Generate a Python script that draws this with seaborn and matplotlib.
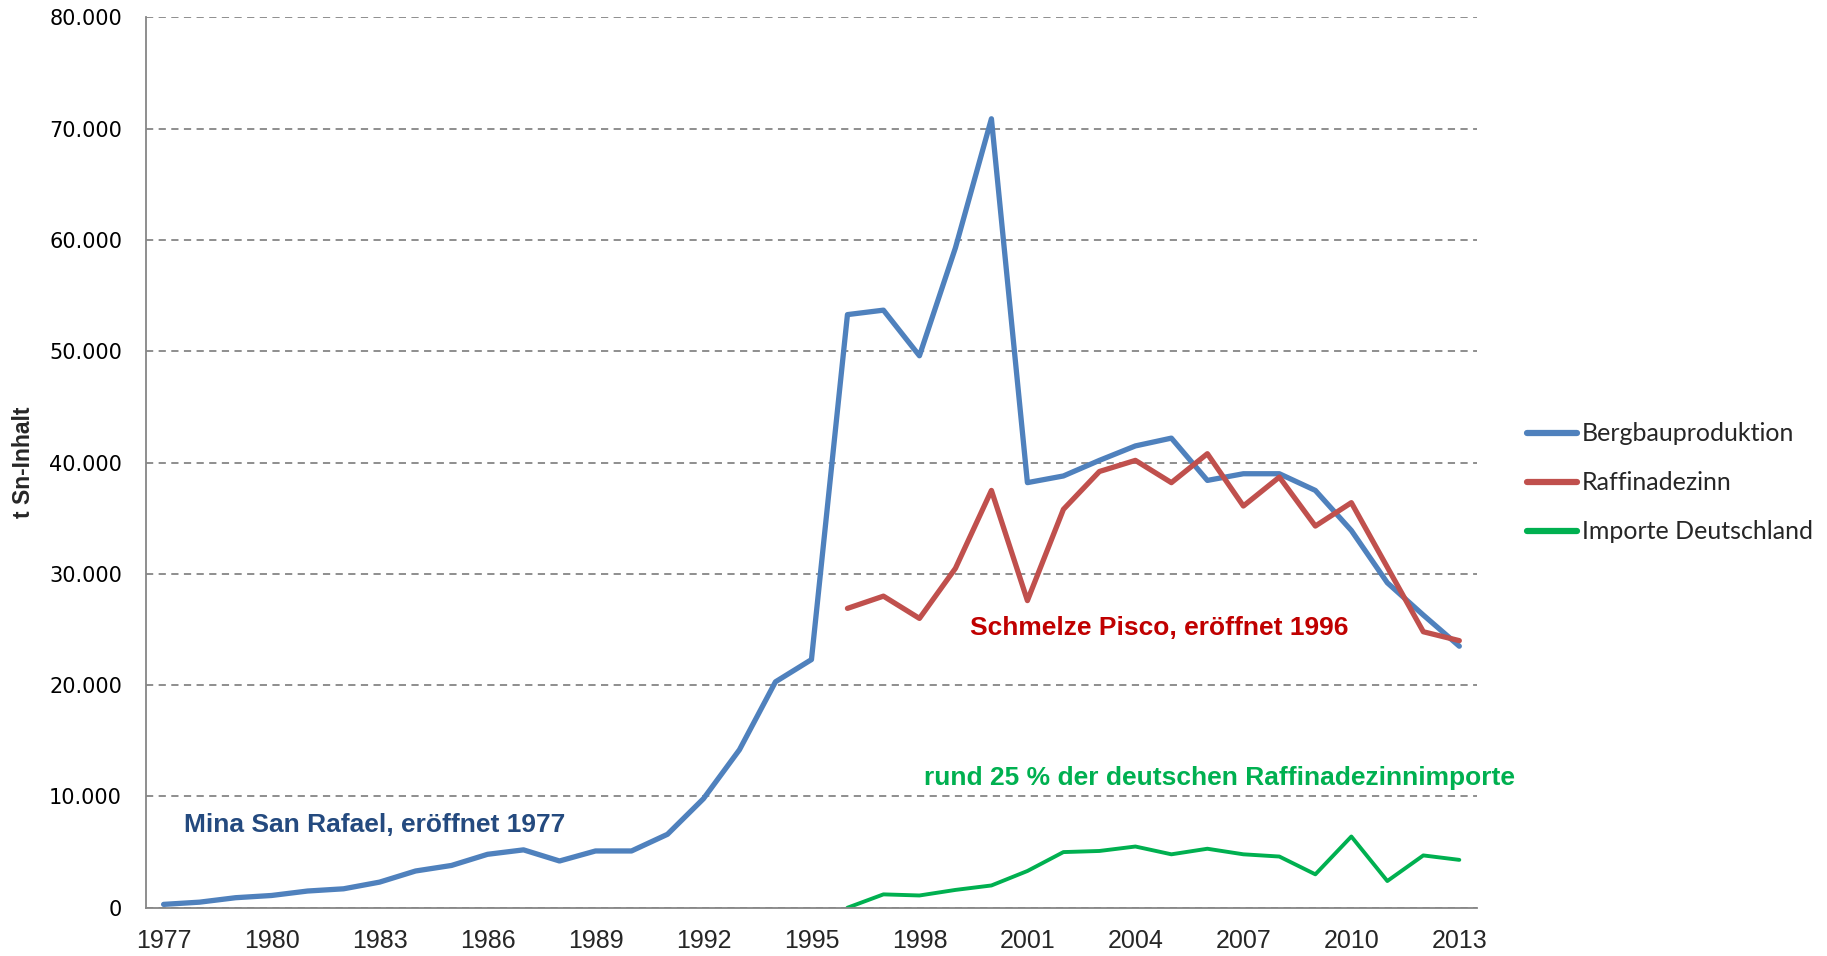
# Zinn in Peru: Bergbau, Raffinade und Importe nach Deutschland
import numpy as np
import pandas as pd
import matplotlib
matplotlib.use("Agg")
import matplotlib.pyplot as plt
from matplotlib.ticker import FuncFormatter, FixedLocator
import seaborn as sns

# Daten (t Sn-Inhalt)
years = list(range(1977, 2014))
bergbau = [300, 500, 900, 1100, 1500, 1700, 2300, 3300, 3800, 4800,
           5200, 4200, 5100, 5100, 6600, 9800, 14200, 20300, 22300, 53300,
           53700, 49600, 59300, 70900, 38200, 38800, 40200, 41500, 42200, 38400,
           39000, 39000, 37500, 33900, 29200, 26300, 23500]
raffinade_years = list(range(1996, 2014))
raffinade = [26900, 28000, 26000, 30500, 37500, 27600, 35800, 39200, 40200,
             38200, 40800, 36100, 38700, 34300, 36400, 30600, 24800, 24000]
importe = [0, 1200, 1100, 1600, 2000, 3300, 5000, 5100, 5500,
           4800, 5300, 4800, 4600, 3000, 6400, 2400, 4700, 4300]

series_names = ["Bergbauproduktion", "Raffinadezinn", "Importe Deutschland"]
colors = ["#4F81BD", "#C0504D", "#00B050"]

df = pd.DataFrame({"Jahr": years, "Bergbauproduktion": bergbau})
df2 = pd.DataFrame({"Jahr": raffinade_years, "Raffinadezinn": raffinade,
                    "Importe Deutschland": importe})
df = df.merge(df2, on="Jahr", how="left")
df["pos"] = df["Jahr"] - years[0]

sns.set_style("white")
plt.rcParams["font.family"] = ["DejaVu Sans"]
narrow = ["Liberation Sans Narrow", "Liberation Sans"]

fig = plt.figure(figsize=(18.27, 9.56), dpi=100)
ax = fig.add_axes([0.0797, 0.0505, 0.7289, 0.9312])

widths = [3.8, 3.8, 2.8]
for name, c, w in zip(series_names, colors, widths):
    sns.lineplot(data=df, x="pos", y=name, color=c, linewidth=w, label=name,
                 ax=ax, legend=False)

ax.set_xlim(-0.5, len(years) - 0.5)
ax.set_ylim(0, 80000)
ax.set_yticks(np.arange(0, 80001, 10000))
ax.yaxis.set_major_formatter(FuncFormatter(lambda v, p: f"{int(v):,}".replace(",", ".")))
ax.grid(axis="y", color="#868686", linestyle=(0, (4, 3)), linewidth=1.3)
ax.set_axisbelow(True)
ax.tick_params(axis="y", length=0, pad=17, labelsize=15, colors="black")

# Kategorieachse: Striche zwischen den Jahren, Beschriftung alle 3 Jahre
ax.xaxis.set_major_locator(FixedLocator(np.arange(-0.5, len(years), 1)))
ax.xaxis.set_major_formatter(FuncFormatter(lambda v, p: ""))
lab_pos = list(range(0, len(years), 3))
ax.xaxis.set_minor_locator(FixedLocator(lab_pos))
ax.set_xticklabels([str(years[i]) for i in lab_pos], minor=True)
ax.tick_params(axis="x", which="major", length=6, width=1.2, color="#868686", direction="out")
ax.tick_params(axis="x", which="minor", length=0, pad=15, labelsize=18)
for t in ax.get_xticklabels(minor=True):
    t.set_family(narrow)

for s in ["top", "right"]:
    ax.spines[s].set_visible(False)
for s in ["left", "bottom"]:
    ax.spines[s].set_color("#868686")
    ax.spines[s].set_linewidth(1.3)
ax.set_xlabel("")
ax.set_ylabel("")

fig.text(0.0126, 0.516, "t Sn-Inhalt", rotation=90, ha="center", va="center",
         fontsize=16.5, fontweight="bold", family=narrow)

# Anmerkungen
ax.text(0.57, 7430, "Mina San Rafael, eröffnet 1977", color="#244A7F",
        fontsize=19, fontweight="bold", family=["Liberation Sans"], va="center")
ax.text(22.4, 25130, "Schmelze Pisco, eröffnet 1996", color="#C00000",
        fontsize=19, fontweight="bold", family=narrow, va="center")
ax.text(21.14, 11620, "rund 25 % der deutschen Raffinadezinnimporte", color="#00B050",
        fontsize=19, fontweight="bold", family=narrow, va="center")

handles, labels = ax.get_legend_handles_labels()
leg = fig.legend(handles, labels, loc="center left", bbox_to_anchor=(0.8235, 0.495),
                 frameon=False, handlelength=2.0, handletextpad=0.2,
                 labelspacing=1.04, prop={"family": "Lato", "size": 18})
for h in leg.legend_handles:
    h.set_linewidth(4.5)

fig.savefig("out.png", dpi=100)
